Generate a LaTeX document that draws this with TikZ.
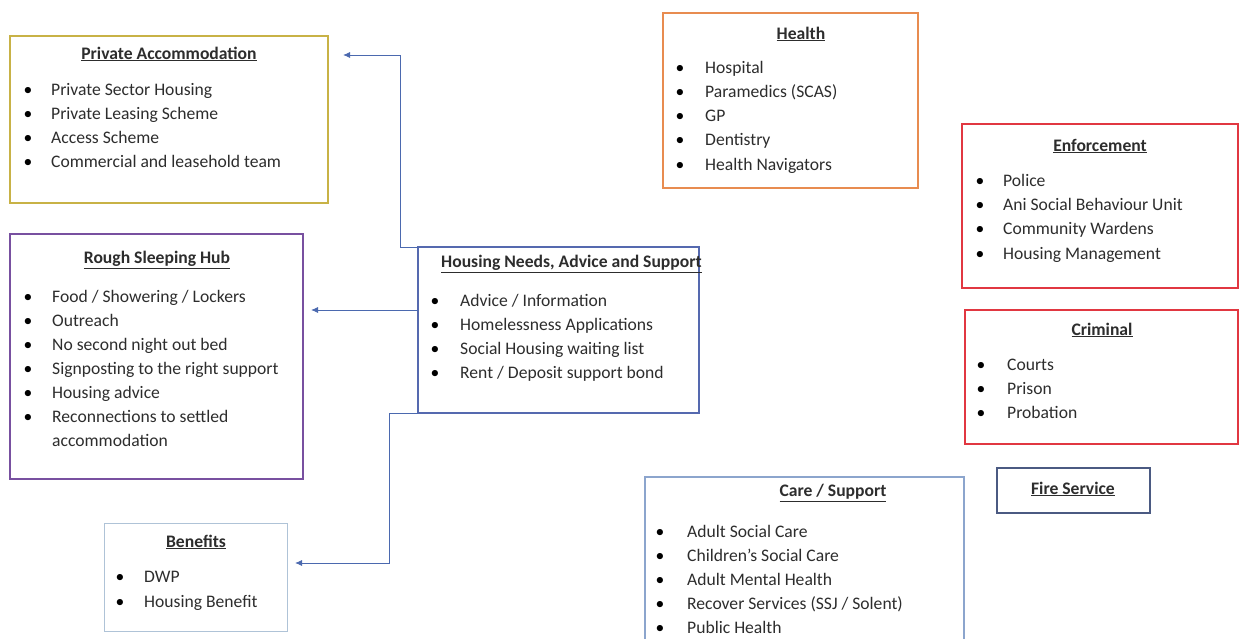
\documentclass[tikz,border=0pt]{standalone}
\usepackage{fontspec}
\setmainfont{Carlito}
\usetikzlibrary{arrows.meta}
\definecolor{cpa}{RGB}{200,178,70}
\definecolor{crs}{RGB}{120,80,160}
\definecolor{cbn}{RGB}{175,195,215}
\definecolor{chn}{RGB}{85,105,175}
\definecolor{che}{RGB}{232,140,80}
\definecolor{cen}{RGB}{225,55,65}
\definecolor{ccs}{RGB}{140,165,205}
\definecolor{cfs}{RGB}{75,90,130}
\definecolor{carr}{RGB}{75,105,175}
\definecolor{ctxt}{RGB}{45,45,45}
\newcommand{\bli}[5]{\node[bul] (#1b) at (#2,#4) {\textbullet}; \node[itm] (#1) at (#3,#4) {#5};}
\begin{document}
\begin{tikzpicture}[x=1pt,y=-1pt,
  box/.style={draw, line width=1.4pt, fill=white, anchor=north west, inner sep=0pt, outer sep=0pt},
  ttl/.style={font=\fontsize{17.6}{20}\selectfont\bfseries, text=ctxt, inner sep=0pt},
  itm/.style={font=\fontsize{17.6}{20}\selectfont, text=ctxt, anchor=west, inner sep=0pt, text height=12pt, text depth=4pt},
  bul/.style={font=\fontsize{17.6}{20}\selectfont, text=black, inner sep=0pt, text height=12pt, text depth=4pt},
  conn/.style={draw=carr, line width=0.9pt, -{Latex[length=7pt,width=6pt]}}]
\clip (0,0) rectangle (1240,639);
\fill[white] (0,0) rectangle (1240,639);
% boxes
\node[box, draw=cpa, minimum width=318pt, minimum height=167pt] (pa) at (10,36) {};
\node[box, draw=crs, minimum width=293pt, minimum height=245pt] (rs) at (10,234) {};
\node[box, draw=cbn, line width=1pt, minimum width=183pt, minimum height=108pt] (bn) at (104,523) {};
\node[box, draw=chn, minimum width=281pt, minimum height=166pt] (hn) at (418,247) {};
\node[box, draw=che, minimum width=255pt, minimum height=175pt] (he) at (663,13) {};
\node[box, draw=cen, minimum width=276pt, minimum height=164pt] (en) at (962,124) {};
\node[box, draw=cen, minimum width=273pt, minimum height=134pt] (cr) at (965,310) {};
\node[box, draw=ccs, minimum width=319pt, minimum height=190pt] (cs) at (645,477) {};
\node[box, draw=cfs, minimum width=153pt, minimum height=45pt] (fs) at (997,468) {};
% Private Accommodation
\node[ttl] (pat) at (169,54) {\underline{Private Accommodation}};
\bli{pa1}{28}{51}{92}{Private Sector Housing}
\bli{pa2}{28}{51}{116}{Private Leasing Scheme}
\bli{pa3}{28}{51}{140}{Access Scheme}
\bli{pa4}{28}{51}{164}{Commercial and leasehold team}
% Rough Sleeping Hub
\node[ttl] (rst) at (157,260) {\underline{Rough Sleeping Hub}};
\bli{rs1}{28}{52}{298}{Food / Showering / Lockers}
\bli{rs2}{28}{52}{322}{Outreach}
\bli{rs3}{28}{52}{346}{No second night out bed}
\bli{rs4}{28}{52}{370}{Signposting to the right support}
\bli{rs5}{28}{52}{394}{Housing advice}
\bli{rs6}{28}{52}{418}{Reconnections to settled}
\node[itm] (rs7) at (52,442) {accommodation};
% Benefits
\node[ttl] (bnt) at (196,542) {\underline{Benefits}};
\bli{bn1}{120}{144}{578}{DWP}
\bli{bn2}{120}{144}{603}{Housing Benefit}
% Housing Needs
\node[ttl, anchor=west] (hnt) at (441,264) {\underline{Housing Needs, Advice and Support}};
\bli{hn1}{435}{460}{302}{Advice / Information}
\bli{hn2}{435}{460}{326}{Homelessness Applications}
\bli{hn3}{435}{460}{350}{Social Housing waiting list}
\bli{hn4}{435}{460}{374}{Rent / Deposit support bond}
% Health
\node[ttl] (het) at (801,34) {\underline{Health}};
\bli{he1}{680}{705}{70}{Hospital}
\bli{he2}{680}{705}{94}{Paramedics (SCAS)}
\bli{he3}{680}{705}{118}{GP}
\bli{he4}{680}{705}{142}{Dentistry}
\bli{he5}{680}{705}{167}{Health Navigators}
% Enforcement
\node[ttl] (ent) at (1100,146) {\underline{Enforcement}};
\bli{en1}{980}{1003}{183}{Police}
\bli{en2}{980}{1003}{207}{Ani Social Behaviour Unit}
\bli{en3}{980}{1003}{231}{Community Wardens}
\bli{en4}{980}{1003}{255}{Housing Management}
% Criminal
\node[ttl] (crt) at (1102,330) {\underline{Criminal}};
\bli{cr1}{981}{1007}{366}{Courts}
\bli{cr2}{981}{1007}{390}{Prison}
\bli{cr3}{981}{1007}{414}{Probation}
% Care / Support
\node[ttl] (cst) at (833,493) {\underline{Care / Support}};
\bli{cs1}{660}{687}{533}{Adult Social Care}
\bli{cs2}{660}{687}{557}{Children's Social Care}
\bli{cs3}{660}{687}{581}{Adult Mental Health}
\bli{cs4}{660}{687}{605}{Recover Services (SSJ / Solent)}
\bli{cs5}{660}{687}{629}{Public Health}
% Fire Service
\node[ttl] (fst) at (1073,489) {\underline{Fire Service}};
% connectors
\coordinate (k1) at (400,247);
\coordinate (paT) at (343,55);
\coordinate (hnL) at (418,310);
\coordinate (rsT) at (311,310);
\coordinate (k2) at (389,413);
\coordinate (bnT) at (295,563);
\draw[conn] (hn.north west) -- (k1) |- (paT);
\draw[conn] (hnL) -- (rsT);
\draw[conn] (hn.south west) -- (k2) |- (bnT);
\end{tikzpicture}
\end{document}
